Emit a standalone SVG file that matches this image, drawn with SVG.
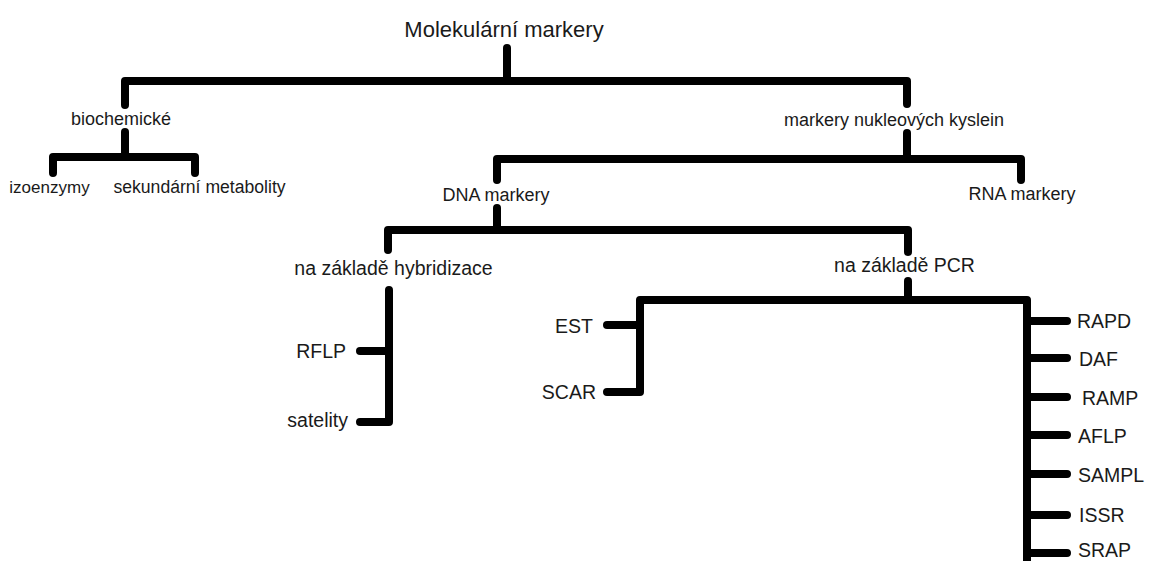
<svg xmlns="http://www.w3.org/2000/svg" width="1149" height="561" viewBox="0 0 1149 561">
<style>
.c{fill:none;stroke:#000;stroke-width:8;stroke-linecap:round;stroke-linejoin:round}
text{font-family:"Liberation Sans",Arial,sans-serif;fill:#1a1a1a}
.t0{font-size:22px}
.t1{font-size:18px}
.t2{font-size:19.5px}
</style>
<rect width="1149" height="561" fill="#fff"/>
<g id="connectors">
<path class="c" d="M507,48 V81"/>
<path class="c" d="M125,105 V81 H907 V104"/>
<path class="c" d="M125,132 V157"/>
<path class="c" d="M53,173 V157 H195 V173"/>
<path class="c" d="M907,133 V159"/>
<path class="c" d="M497,180 V159 H1021 V180"/>
<path class="c" d="M497,208 V230"/>
<path class="c" d="M388,250 V230 H908 V252"/>
<path class="c" d="M389,290 V422 H360"/>
<path class="c" d="M360,351 H389"/>
<path class="c" d="M908,281 V300"/>
<path class="c" d="M607,392 H640 V300 H1027 V575"/>
<path class="c" d="M607,325 H640"/>
<path class="c" d="M1027,321 H1067 M1027,358 H1067 M1027,397 H1067 M1027,435 H1067 M1027,474 H1067 M1027,515 H1067 M1027,553 H1067"/>
</g>
<g id="n-root"><text class="t0" x="504" y="37" text-anchor="middle">Molekulární markery</text></g>
<g id="n-biochem"><text class="t1" x="121" y="125" text-anchor="middle">biochemické</text></g>
<g id="n-nukl"><text class="t1" x="894" y="126" text-anchor="middle">markery nukleových kyslein</text></g>
<g id="n-izo"><text x="49.5" y="193" text-anchor="middle" style="font-size:17px">izoenzymy</text></g>
<g id="n-sek"><text x="199.5" y="193" text-anchor="middle" style="font-size:17.6px">sekundární metabolity</text></g>
<g id="n-dna"><text class="t1" x="496" y="201" text-anchor="middle">DNA markery</text></g>
<g id="n-rna"><text class="t1" x="1022" y="200" text-anchor="middle">RNA markery</text></g>
<g id="n-hyb"><text class="t2" x="393.5" y="275" text-anchor="middle">na základě hybridizace</text></g>
<g id="n-pcr"><text class="t2" x="904.5" y="272" text-anchor="middle">na základě PCR</text></g>
<g id="n-rflp"><text class="t2" x="346" y="358" text-anchor="end">RFLP</text></g>
<g id="n-sat"><text class="t2" x="348" y="427" text-anchor="end">satelity</text></g>
<g id="n-est"><text class="t2" x="593" y="333" text-anchor="end">EST</text></g>
<g id="n-scar"><text class="t2" x="596" y="399" text-anchor="end">SCAR</text></g>
<g id="n-rapd"><text class="t2" x="1077" y="328">RAPD</text></g>
<g id="n-daf"><text class="t2" x="1079" y="366">DAF</text></g>
<g id="n-ramp"><text class="t2" x="1082" y="405">RAMP</text></g>
<g id="n-aflp"><text class="t2" x="1078" y="443">AFLP</text></g>
<g id="n-sampl"><text class="t2" x="1078" y="482">SAMPL</text></g>
<g id="n-issr"><text class="t2" x="1079" y="522">ISSR</text></g>
<g id="n-srap"><text class="t2" x="1078" y="557">SRAP</text></g>
</svg>
